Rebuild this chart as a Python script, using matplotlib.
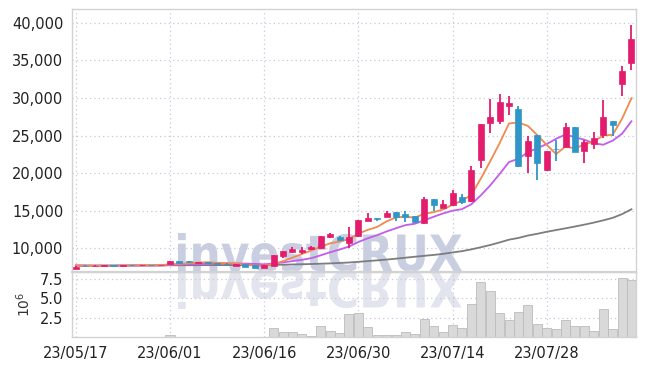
import matplotlib
matplotlib.use('Agg')
import matplotlib.pyplot as plt
import numpy as np
from matplotlib.textpath import TextPath
from matplotlib.font_manager import FontProperties
from matplotlib.patches import PathPatch, Rectangle
from matplotlib.transforms import Affine2D
from matplotlib.ticker import FuncFormatter

# trading days 23/05/17 .. 23/08/10 (60 sessions)
tick_idx = [0, 10, 20, 30, 40, 50]
tick_labels = ['23/05/17', '23/06/01', '23/06/16', '23/06/30', '23/07/14', '23/07/28']

opens = [7250, 7700, 7600, 7650, 7750, 7700, 7780, 7720, 7780, 7740,
         7900, 8300, 8250, 8100, 8200, 8050, 7950, 7650, 7870, 7750,
         7400, 7650, 8980, 9470, 9550, 9870, 10000, 11460, 11540, 10750,
         11640, 13670, 14030, 14200, 14830, 14560, 14300, 13330, 16520, 15400,
         15760, 16770, 16330, 21740, 26700, 26970, 28970, 28530, 22280, 25070,
         20370, 23200, 23510, 26090, 22980, 23910, 25070, 26920, 31890, 34690]
closes = [7550, 7600, 7700, 7720, 7700, 7780, 7720, 7760, 7740, 7800,
          8300, 8050, 8150, 8200, 8050, 7900, 7850, 7850, 7520, 7380,
          7750, 9110, 9680, 9870, 9770, 10130, 11600, 11940, 11050, 11460,
          13760, 14070, 13900, 14730, 14120, 14200, 13460, 16520, 15760, 15890,
          17400, 16120, 20410, 26530, 27450, 29420, 29290, 20990, 24270, 21310,
          22940, 23150, 26090, 22850, 24140, 24670, 27410, 26400, 33580, 37840]
highs = [7580, 7720, 7720, 7740, 7760, 7800, 7790, 7780, 7790, 7820,
         8350, 8320, 8300, 8230, 8220, 8080, 7980, 7880, 7900, 7780,
         7780, 9150, 9700, 10210, 10210, 10250, 11650, 12050, 11600, 12870,
         13800, 14650, 14050, 14960, 14850, 15000, 14350, 16860, 16550, 16380,
         17750, 17220, 20950, 26600, 29860, 30480, 30220, 28930, 24980, 25100,
         23000, 24400, 26620, 26100, 24400, 25430, 29720, 26920, 34290, 39700]
lows = [7230, 7580, 7580, 7630, 7680, 7680, 7700, 7700, 7720, 7720,
        7880, 8000, 8100, 8080, 8030, 7880, 7830, 7630, 7500, 7340,
        7380, 7600, 8750, 9400, 9200, 9800, 9950, 11400, 11000, 10000,
        11500, 13600, 13670, 14150, 13670, 13540, 13400, 13250, 14900, 15350,
        15630, 15890, 16200, 20640, 25300, 26490, 27730, 20770, 19980, 19080,
        20300, 21610, 23450, 22800, 21380, 23170, 24710, 24980, 30300, 33710]
volumes = [0.06e6, 0.04e6, 0.05e6, 0.03e6, 0.04e6, 0.03e6, 0.03e6, 0.04e6, 0.03e6, 0.05e6,
           0.26e6, 0.08e6, 0.06e6, 0.05e6, 0.05e6, 0.04e6, 0.04e6, 0.05e6, 0.06e6, 0.06e6,
           0.07e6, 1.15e6, 0.68e6, 0.68e6, 0.38e6, 0.13e6, 1.41e6, 0.81e6, 0.51e6, 2.99e6,
           3.08e6, 1.28e6, 0.26e6, 0.26e6, 0.26e6, 0.64e6, 0.38e6, 2.35e6, 1.41e6, 0.68e6,
           1.54e6, 1.15e6, 4.27e6, 7.05e6, 5.90e6, 3.12e6, 2.22e6, 3.24e6, 4.10e6, 1.70e6,
           1.19e6, 1.06e6, 2.22e6, 1.41e6, 1.41e6, 0.81e6, 3.63e6, 1.06e6, 7.60e6, 7.35e6]
ma5 = [7700, 7680, 7650, 7640, 7654, 7700, 7724, 7736, 7740, 7760,
       7864, 7930, 8008, 8100, 8150, 8070, 8030, 7970, 7834, 7700,
       7670, 7922, 8288, 8758, 9236, 9712, 10210, 10662, 10898, 11236,
       11962, 12456, 12848, 13584, 14116, 14204, 14082, 14606, 14812, 15166,
       15806, 16338, 17116, 19270, 21582, 23986, 26620, 26736, 26284, 25056,
       23760, 22532, 23552, 23268, 23834, 24180, 25032, 25094, 27240, 29980]
ma10 = [7720, 7710, 7700, 7700, 7700, 7700, 7700, 7705, 7705, 7707,
        7782, 7827, 7872, 7920, 7955, 7967, 7980, 7989, 7967, 7925,
        7870, 7976, 8129, 8296, 8468, 8691, 9066, 9475, 9828, 10236,
        10837, 11333, 11755, 12241, 12676, 13083, 13269, 13727, 14198, 14641,
        15005, 15210, 15861, 17041, 18374, 19896, 21479, 21926, 22777, 23319,
        23873, 24576, 25144, 24776, 24445, 23970, 23782, 24321, 25252, 26907]
ma60 = [7700, 7700, 7705, 7710, 7710, 7715, 7720, 7720, 7725, 7730,
        7740, 7745, 7750, 7755, 7760, 7760, 7765, 7770, 7765, 7760,
        7765, 7790, 7820, 7850, 7880, 7910, 7950, 7990, 8050, 8110,
        8200, 8300, 8400, 8500, 8620, 8750, 8880, 9000, 9120, 9260,
        9450, 9620, 9860, 10140, 10440, 10780, 11150, 11380, 11700, 11930,
        12200, 12430, 12660, 12900, 13150, 13420, 13720, 14050, 14550, 15190]

up_c = '#e31c6e'
down_c = '#3096c8'
grid_c = '#c6c9d9'
spine_c = '#d2d2d2'
font = ['Liberation Sans Narrow', 'DejaVu Sans']

fig = plt.figure(figsize=(6.45, 3.66), dpi=100, facecolor='white')
ax = fig.add_axes([0.111, 0.2577, 0.8746, 0.7169], facecolor='none')
axv = fig.add_axes([0.111, 0.0784, 0.8746, 0.1793], facecolor='none', sharex=ax)

# watermark with reflection
tp = TextPath((0, 0), 'investCRUX', size=50, prop=FontProperties(family='DejaVu Sans', weight='bold'))
bb = tp.get_extents()
sx = 284 / bb.width
sy = 38 / bb.y1
wm = PathPatch(tp, transform=Affine2D().translate(-bb.x0, 0).scale(sx, sy).translate(178, 95),
               fc='#c9cee1', ec='none', zorder=-2)
wr = PathPatch(tp, transform=Affine2D().translate(-bb.x0, 0).scale(sx, -sy).translate(178, 95),
               fc='#e2e4ee', ec='none', zorder=-2)
fig.add_artist(wm)
fig.add_artist(wr)

x = np.arange(len(closes))
for i in x:
    o, c, h, l = opens[i], closes[i], highs[i], lows[i]
    col = up_c if c >= o else down_c
    ax.vlines(i, l, h, color=col, lw=1.3, zorder=3)
    bottom = min(o, c)
    height = max(abs(c - o), 90)
    ax.add_patch(Rectangle((i - 0.32, bottom), 0.64, height, fc=col, ec=col, lw=0.5, zorder=4))

ax.plot(x, ma60, color='#7d7d7d', lw=1.3, zorder=2)
ax.plot(x, ma10, color='#c45ceb', lw=1.3, zorder=2)
ax.plot(x, ma5, color='#f08a4e', lw=1.3, zorder=2)

axv.bar(x, volumes, width=0.96, color='#d9d9d9', edgecolor='#bcbcbc', lw=0.6, zorder=2)

ax.set_xlim(-0.45, 59.45)
ax.set_ylim(6890, 41800)
axv.set_ylim(0, 8.37e6)

ax.set_yticks(range(10000, 40001, 5000))
ax.yaxis.set_major_formatter(FuncFormatter(lambda v, p: '{:,.0f}'.format(v)))
axv.set_yticks([2.5e6, 5e6, 7.5e6])
axv.yaxis.set_major_formatter(FuncFormatter(lambda v, p: '{:.1f}'.format(v / 1e6)))
axv.set_xticks(tick_idx)
axv.set_xticklabels(tick_labels)
plt.setp(ax.get_xticklabels(), visible=False)

for a in (ax, axv):
    a.grid(True, ls=(0, (1, 2.5)), color=grid_c, lw=0.9, zorder=0)
    a.set_axisbelow(True)
    a.tick_params(length=0, labelsize=10.5, labelcolor='#222222', pad=6)
    for lab in a.get_xticklabels() + a.get_yticklabels():
        lab.set_family(font)
    for s in a.spines.values():
        s.set_color(spine_c)
        s.set_linewidth(1.0)
ax.spines['bottom'].set_linewidth(1.6)

axv.set_ylabel(r'$10^6$', fontsize=10, color='#333333')
axv.yaxis.set_label_coords(-0.069, 0.5)

fig.savefig('out.png', dpi=100)
